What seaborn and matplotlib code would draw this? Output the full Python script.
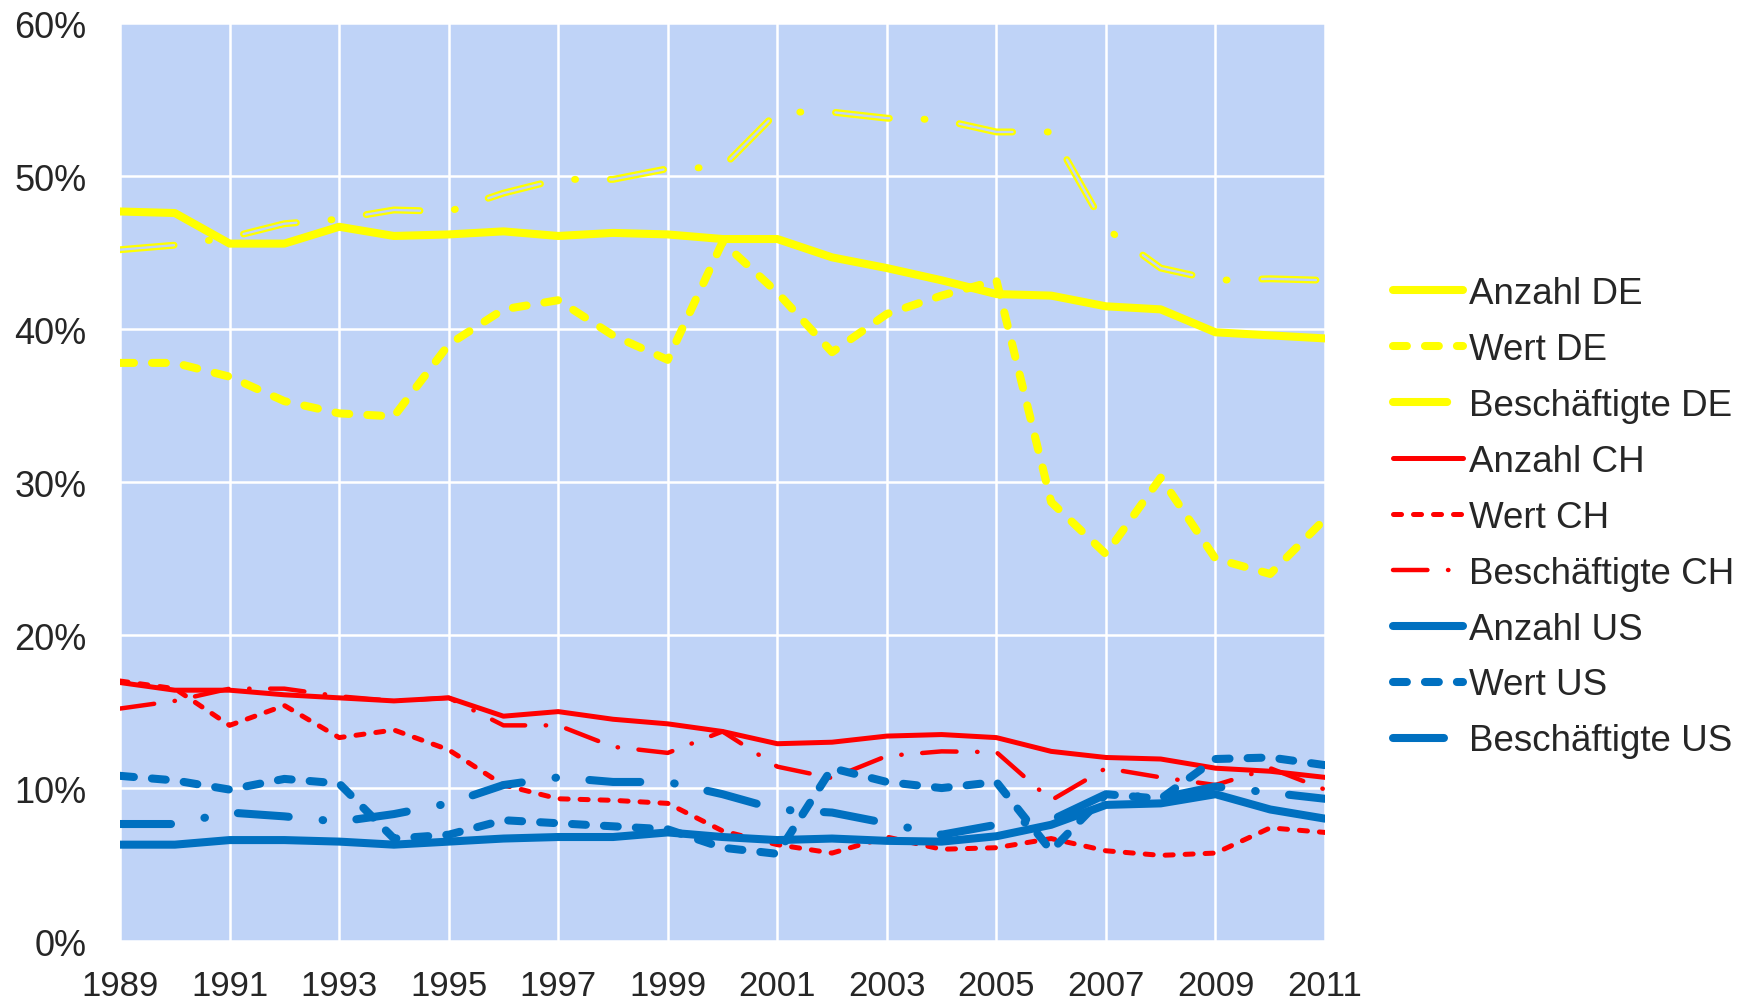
import matplotlib
matplotlib.use("Agg")
import matplotlib.pyplot as plt
from matplotlib.ticker import PercentFormatter, MultipleLocator
import seaborn as sns

years = list(range(1989, 2012))

# Anteile in Prozent
anzahl_de = [47.7, 47.6, 45.6, 45.6, 46.7, 46.1, 46.2, 46.4, 46.1, 46.3, 46.2, 45.9,
             45.9, 44.7, 44.0, 43.2, 42.3, 42.2, 41.5, 41.3, 39.8, 39.6, 39.4]
wert_de = [37.8, 37.8, 36.9, 35.3, 34.5, 34.3, 39.0, 41.3, 41.9, 39.6, 38.0, 45.7,
           42.4, 38.5, 41.0, 42.2, 43.2, 28.7, 25.3, 30.3, 25.0, 24.0, 27.6]
besch_de = [45.2, 45.5, 46.0, 46.9, 47.2, 47.8, 47.7, 48.9, 49.8, 49.8, 50.5, 50.6,
            54.2, 54.2, 53.8, 53.7, 52.9, 52.9, 46.6, 44.0, 43.2, 43.3, 43.2]
anzahl_ch = [16.9, 16.4, 16.4, 16.1, 15.9, 15.7, 15.9, 14.7, 15.0, 14.5, 14.2, 13.7,
             12.9, 13.0, 13.4, 13.5, 13.3, 12.4, 12.0, 11.9, 11.3, 11.1, 10.7]
wert_ch = [17.0, 16.5, 14.1, 15.4, 13.3, 13.8, 12.5, 10.2, 9.3, 9.2, 9.0, 7.2,
           6.3, 5.75, 6.8, 6.0, 6.1, 6.7, 5.9, 5.6, 5.75, 7.4, 7.1]
besch_ch = [15.2, 15.7, 16.5, 16.5, 16.0, 15.7, 15.9, 14.1, 14.1, 12.7, 12.3, 13.7,
            11.4, 10.65, 12.1, 12.4, 12.35, 9.2, 11.3, 10.7, 10.2, 11.3, 9.9]
anzahl_us = [6.3, 6.3, 6.6, 6.6, 6.5, 6.3, 6.5, 6.7, 6.8, 6.8, 7.1, 6.8,
             6.6, 6.7, 6.55, 6.5, 6.85, 7.6, 8.9, 9.0, 9.6, 8.6, 8.0]
wert_us = [10.8, 10.5, 9.9, 10.6, 10.3, 6.7, 6.95, 7.9, 7.7, 7.5, 7.3, 6.1,
           5.7, 11.3, 10.4, 10.0, 10.4, 5.9, 9.6, 9.3, 11.9, 12.0, 11.5]
besch_us = [7.65, 7.65, 8.4, 8.15, 7.8, 8.3, 9.0, 10.2, 10.7, 10.4, 10.4, 9.6,
            8.6, 8.4, 7.7, 6.95, 7.6, 7.9, 9.6, 9.35, 10.1, 9.7, 9.3]

gelb = "#FFFF00"
rot = "#FF0000"
blau = "#0070C0"
hintergrund = "#BFD3F7"

sns.set_style("darkgrid", {"axes.facecolor": hintergrund, "grid.color": "white",
                           "axes.edgecolor": hintergrund})
plt.rcParams["font.family"] = ["Liberation Sans", "DejaVu Sans"]
plt.rcParams["lines.scale_dashes"] = False

fig = plt.figure(figsize=(17.4, 10.03), dpi=100)
ax = fig.add_axes([0.069, 0.0608, 0.6925, 0.9149])

# (label, werte, farbe, breite in pt, linienstil)
reihen = [
    ("Anzahl DE", anzahl_de, gelb, 5.8, "-"),
    ("Wert DE", wert_de, gelb, 5.8, (0, (10, 13))),
    ("Beschäftigte DE", besch_de, gelb, 5.0, (0, (39, 25, 0.7, 25))),
    ("Anzahl CH", anzahl_ch, rot, 3.6, "-"),
    ("Wert CH", wert_ch, rot, 3.6, (0, (5.8, 8.6))),
    ("Beschäftigte CH", besch_ch, rot, 3.2, (0, (24.8, 14.8, 0.3, 14.8))),
    ("Anzahl US", anzahl_us, blau, 5.8, "-"),
    ("Wert US", wert_us, blau, 5.8, (0, (10, 13))),
    ("Beschäftigte US", besch_us, blau, 5.8, (0, (36.7, 24.5, 0.4, 24.1))),
]

for label, werte, farbe, lw, ls in reihen:
    sns.lineplot(x=years, y=werte, ax=ax, color=farbe, linewidth=lw,
                 linestyle=ls, label=label, dash_capstyle="round",
                 solid_capstyle="round")
    if label == "Beschäftigte DE":
        # hohle Doppellinie: Innenteil in Hintergrundfarbe, Punkte bleiben voll
        sns.lineplot(x=years, y=werte, ax=ax, color=hintergrund, linewidth=1.7,
                     linestyle=(0, (39, 50.7)), label="_nolegend_",
                     dash_capstyle="round")

ax.set_xlim(1989, 2011)
ax.set_ylim(0, 60)
ax.set_xticks(range(1989, 2012, 2))
ax.yaxis.set_major_locator(MultipleLocator(10))
ax.yaxis.set_major_formatter(PercentFormatter(decimals=0))
ax.grid(True, color="white", linewidth=1.8)
ax.tick_params(axis="y", labelsize=26, length=0, pad=24)
ax.tick_params(axis="x", labelsize=25, length=0, pad=20)
ax.set_xlabel("")
ax.set_ylabel("")
for s in ax.spines.values():
    s.set_visible(False)

leg = ax.legend(loc="center left", bbox_to_anchor=(0.8006, 0.4835),
                bbox_transform=fig.transFigure, frameon=False, fontsize=26.5,
                handlelength=1.9, handletextpad=0.17, labelspacing=0.57,
                borderpad=0, borderaxespad=0)
for h in leg.get_lines():
    if h.get_label() == "Beschäftigte DE":
        h.set_linewidth(5.8)

fig.savefig("out.png", dpi=100)
